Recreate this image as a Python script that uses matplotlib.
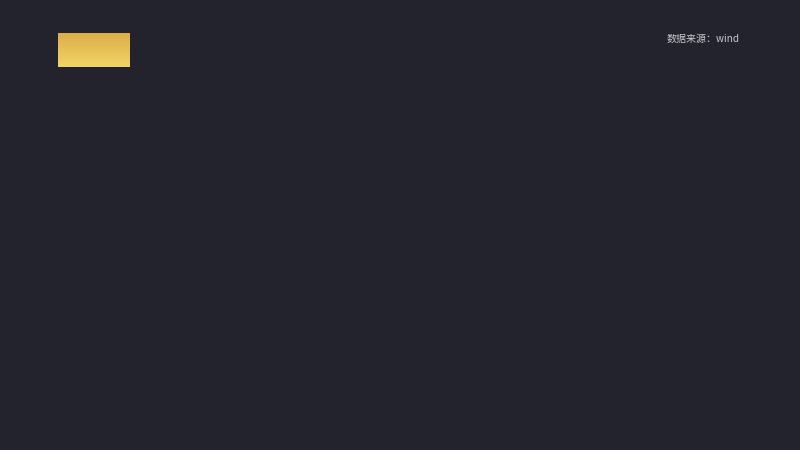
import matplotlib.pyplot as plt
import numpy as np
from matplotlib.colors import LinearSegmentedColormap

plt.rcParams['font.family'] = ['Noto Sans CJK SC', 'DejaVu Sans']

# 图表内容（参考图中没有数据系列）
source_text = '数据来源：wind'
bg_color = '#23232d'
gold_top = '#dcad48'
gold_bottom = '#f2d466'

W, H = 800, 450
fig = plt.figure(figsize=(8, 4.5), dpi=100, facecolor=bg_color)

# 左上角的金色渐变块
ax_badge = fig.add_axes([58 / W, 1 - 67 / H, 72 / W, 34 / H])
cmap = LinearSegmentedColormap.from_list('gold', [gold_top, gold_bottom])
grad = np.linspace(0, 1, 64).reshape(-1, 1)
ax_badge.imshow(grad, aspect='auto', cmap=cmap, extent=[0, 1, 0, 1], origin='upper')
ax_badge.set_axis_off()

# 右上角数据来源
fig.text(740 / W, 1 - 38.5 / H, source_text, ha='right', va='center',
         fontsize=7.2, color='#c8c8cc')

fig.savefig('out.png', dpi=100, facecolor=bg_color)
